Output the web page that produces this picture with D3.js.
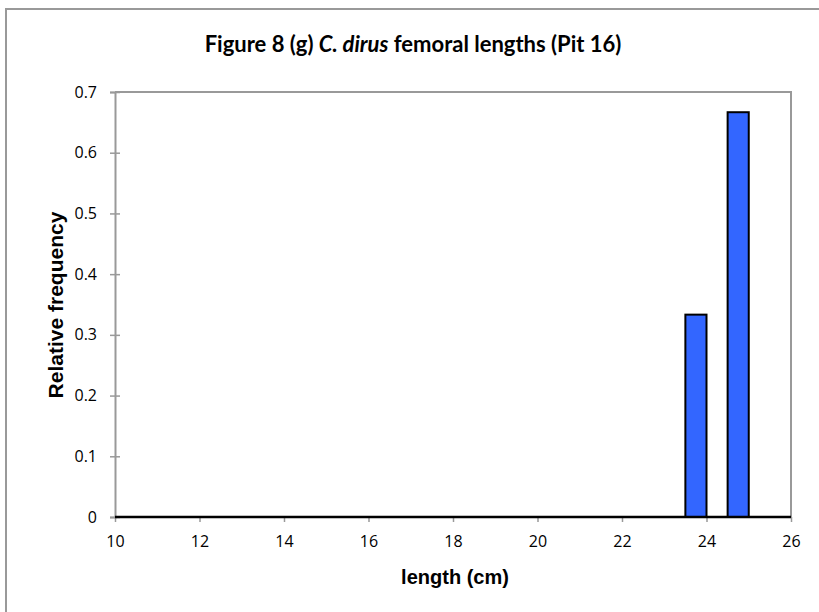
<!DOCTYPE html>
<html><head><meta charset="utf-8">
<script src="https://cdn.jsdelivr.net/npm/d3@7"></script>
<style>body{margin:0;background:#fff}svg{display:block}
.tk text{font-family:'Open Sans',sans-serif;font-size:16px;fill:#000}</style>
</head><body>
<svg id="c" width="819" height="612"></svg>
<script>
const binStarts = [23.5, 24.5];
const binEnds = [24, 25];
const freqs = [0.3333, 0.6667];
const xTicks = [10, 12, 14, 16, 18, 20, 22, 24, 26];
const yTicks = [0, 0.1, 0.2, 0.3, 0.4, 0.5, 0.6, 0.7];

const svg = d3.select("#c");
const L = 115, R = 791, T = 92, B = 517;
const x = d3.scaleLinear().domain([10, 26]).range([L, R]);
const y = d3.scaleLinear().domain([0, 0.7]).range([B, T]);

// outer border (top and left only visible)
svg.append("path").attr("d", "M6,612 L6,9 L819,9").attr("fill", "none").attr("stroke", "#999").attr("stroke-width", 2);

// title
const title = svg.append("text").attr("x", 413).attr("y", 52).attr("text-anchor", "middle")
  .style("font-family", "Lato, sans-serif").style("font-weight", "bold").style("font-size", "22px").attr("fill", "#000");
title.append("tspan").text("Figure 8 (g) ");
title.append("tspan").style("font-style", "italic").text("C. dirus");
title.append("tspan").text(" femoral lengths (Pit 16)");

// plot area border top/right
svg.append("path").attr("d", `M${L},${T} L${R},${T} L${R},${B}`).attr("fill", "none").attr("stroke", "#999").attr("stroke-width", 2);

// y axis
const yAxis = svg.append("g").attr("class", "tk").attr("transform", `translate(${L},0)`)
  .call(d3.axisLeft(y).tickValues(yTicks).tickFormat(d => d === 0 ? "0" : d3.format(".1f")(d)).tickSize(5).tickPadding(13));
yAxis.attr("font-size", 16).attr("font-family", "'Open Sans', sans-serif");
yAxis.select(".domain").attr("stroke", "#999").attr("stroke-width", 2);
yAxis.selectAll(".tick line").attr("stroke", "#999").attr("stroke-width", 1.5).attr("x2", -5).attr("x1", 5);

// x axis
const xAxis = svg.append("g").attr("class", "tk").attr("transform", `translate(0,${B})`)
  .call(d3.axisBottom(x).tickValues(xTicks).tickSize(5).tickPadding(14));
xAxis.attr("font-size", 16).attr("font-family", "'Open Sans', sans-serif");
xAxis.select(".domain").remove();
xAxis.selectAll(".tick line").attr("stroke", "#999").attr("stroke-width", 1.5);

// bars
svg.append("g").selectAll("rect").data(freqs).join("rect")
  .attr("x", (d, i) => x(binStarts[i]))
  .attr("width", (d, i) => x(binEnds[i]) - x(binStarts[i]))
  .attr("y", d => y(d))
  .attr("height", d => y(0) - y(d))
  .attr("fill", "#3366FF").attr("stroke", "#000").attr("stroke-width", 2);

// zero line
svg.append("line").attr("x1", L).attr("x2", R).attr("y1", B).attr("y2", B).attr("stroke", "#000").attr("stroke-width", 2.5);

// axis titles
svg.append("text").attr("x", 455).attr("y", 584).attr("text-anchor", "middle")
  .style("font-family", "'Liberation Sans', Arial, sans-serif").style("font-weight", "bold").style("font-size", "20px").text("length (cm)");
svg.append("text").attr("transform", "translate(63,305) rotate(-90)").attr("text-anchor", "middle")
  .style("font-family", "'Liberation Sans', Arial, sans-serif").style("font-weight", "bold").style("font-size", "21px").text("Relative frequency");
</script>
</body></html>
